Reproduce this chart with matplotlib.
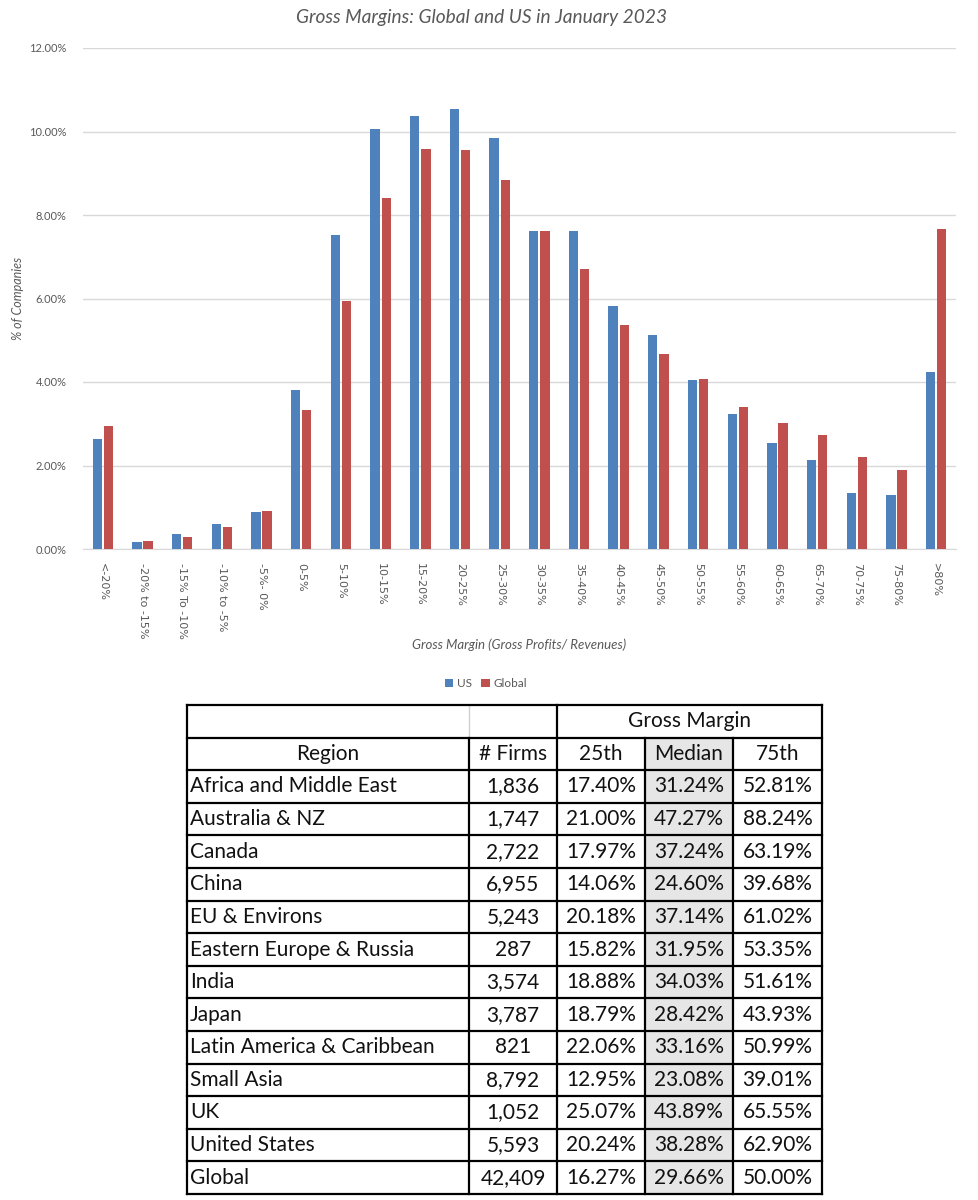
import matplotlib
matplotlib.use("Agg")
import matplotlib.pyplot as plt
from matplotlib.patches import Rectangle
from matplotlib.lines import Line2D
from matplotlib.ticker import FuncFormatter, MultipleLocator
import numpy as np

# ---------------- data ----------------
categories = ["<-20%", "-20% to -15%", "-15% To -10%", "-10% to -5%", "-5%- 0%",
              "0-5%", "5-10%", "10-15%", "15-20%", "20-25%", "25-30%", "30-35%",
              "35-40%", "40-45%", "45-50%", "50-55%", "55-60%", "60-65%", "65-70%",
              "70-75%", "75-80%", ">80%"]
us_pct = [2.63, 0.16, 0.37, 0.61, 0.88, 3.81, 7.51, 10.06, 10.38, 10.54, 9.85, 7.61,
          7.61, 5.82, 5.12, 4.05, 3.23, 2.54, 2.14, 1.33, 1.29, 4.25]
global_pct = [2.95, 0.20, 0.29, 0.52, 0.91, 3.33, 5.93, 8.40, 9.57, 9.55, 8.83, 7.61,
              6.70, 5.36, 4.66, 4.06, 3.40, 3.02, 2.72, 2.20, 1.90, 7.66]

regions = ["Africa and Middle East", "Australia & NZ", "Canada", "China", "EU & Environs",
           "Eastern Europe & Russia", "India", "Japan", "Latin America & Caribbean",
           "Small Asia", "UK", "United States", "Global"]
firms = [1836, 1747, 2722, 6955, 5243, 287, 3574, 3787, 821, 8792, 1052, 5593, 42409]
p25 = [17.40, 21.00, 17.97, 14.06, 20.18, 15.82, 18.88, 18.79, 22.06, 12.95, 25.07, 20.24, 16.27]
median = [31.24, 47.27, 37.24, 24.60, 37.14, 31.95, 34.03, 28.42, 33.16, 23.08, 43.89, 38.28, 29.66]
p75 = [52.81, 88.24, 63.19, 39.68, 61.02, 53.35, 51.61, 43.93, 50.99, 39.01, 65.55, 62.90, 50.00]

US_COLOR = "#4F81BD"
GL_COLOR = "#C0504D"
GREY = "#595959"
FONT = "Lato"

W, H = 979, 1200
fig = plt.figure(figsize=(W / 100, H / 100), dpi=100)

# ---------------- bar chart ----------------
ax = fig.add_axes([83 / W, 1 - 549 / H, (956 - 83) / W, (549 - 48) / H])
x = np.arange(len(categories))
bw = 0.235
ax.bar(x - 0.14, np.array(us_pct) / 100, width=bw, color=US_COLOR, label="US", zorder=3)
ax.bar(x + 0.14, np.array(global_pct) / 100, width=bw, color=GL_COLOR, label="Global", zorder=3)
ax.set_xlim(-0.5, len(categories) - 0.5)
ax.set_ylim(0, 0.12)
ax.yaxis.set_major_locator(MultipleLocator(0.02))
ax.yaxis.set_major_formatter(FuncFormatter(lambda v, p: f"{v * 100:.2f}%"))
ax.grid(axis="y", color="#D9D9D9", lw=1, zorder=0)
for s in ["top", "right", "left"]:
    ax.spines[s].set_visible(False)
ax.spines["bottom"].set_color("#D9D9D9")
ax.tick_params(axis="both", length=0, colors=GREY)
ax.tick_params(axis="y", labelsize=8, pad=12)
ax.set_xticks(x)
ax.set_xticklabels(categories, rotation=270, fontsize=8, family="DejaVu Sans", color=GREY)
ax.tick_params(axis="x", pad=10)
for lab in ax.get_yticklabels():
    lab.set_family(FONT)

ax.set_ylabel("% of Companies", fontsize=9, style="italic", family=FONT, color=GREY)
ax.yaxis.set_label_coords(-0.0676, 0.5)
fig.text(519 / W, 1 - 645 / H, "Gross Margin (Gross Profits/ Revenues)", ha="center", va="center",
         fontsize=9.5, style="italic", family=FONT, color=GREY)
fig.text(482 / W, 1 - 18 / H, "Gross Margins: Global and US in January 2023", ha="center",
         va="center", fontsize=13.8, style="italic", family=FONT, color=GREY)
leg = fig.legend(loc="center", bbox_to_anchor=(486 / W, 1 - 684 / H), ncol=2, frameon=False,
                 handlelength=0.7, handleheight=0.7, handletextpad=0.3,
                 columnspacing=0.8, prop={"family": FONT, "size": 8.5})
for t in leg.get_texts():
    t.set_color(GREY)

# ---------------- table ----------------
tx = fig.add_axes([0, 0, 1, 1])
tx.set_xlim(0, W)
tx.set_ylim(H, 0)
tx.axis("off")
tx.patch.set_alpha(0)

cols = [187, 469, 557, 645, 733, 822]
top = 705
rh = 32.6
nrows = 2 + len(regions)
ys = [top + i * rh for i in range(nrows + 1)]
TFS = 15
lw = 1.6

# median shading
for i in range(1, nrows):
    tx.add_patch(Rectangle((cols[3], ys[i]), cols[4] - cols[3], rh, color="#E6E6E6", lw=0, zorder=1))

# horizontal lines
for i, y in enumerate(ys):
    tx.add_line(Line2D([cols[0], cols[-1]], [y, y], color="black", lw=lw, zorder=3))
# vertical lines
for j, c in enumerate(cols):
    if j in (0, 2, 5):
        tx.add_line(Line2D([c, c], [ys[0], ys[-1]], color="black", lw=lw, zorder=3))
    elif j == 1:
        tx.add_line(Line2D([c, c], [ys[0], ys[1]], color="#D0D0D0", lw=1, zorder=2))
        tx.add_line(Line2D([c, c], [ys[1], ys[-1]], color="black", lw=lw, zorder=3))
    else:
        tx.add_line(Line2D([c, c], [ys[1], ys[-1]], color="black", lw=lw, zorder=3))

def ctext(xc, yc, s, ha="center"):
    tx.text(xc, yc, s, ha=ha, va="center", fontsize=TFS, family=FONT, color="#111111", zorder=4)

ctext((cols[2] + cols[5]) / 2, ys[0] + rh / 2, "Gross Margin")
hdr = ["Region", "# Firms", "25th", "Median", "75th"]
for j, h in enumerate(hdr):
    ctext((cols[j] + cols[j + 1]) / 2, ys[1] + rh / 2, h)
for i, r in enumerate(regions):
    yc = ys[2 + i] + rh / 2
    ctext(cols[0] + 3, yc, r, ha="left")
    ctext((cols[1] + cols[2]) / 2, yc, f"{firms[i]:,}")
    ctext((cols[2] + cols[3]) / 2, yc, f"{p25[i]:.2f}%")
    ctext((cols[3] + cols[4]) / 2, yc, f"{median[i]:.2f}%")
    ctext((cols[4] + cols[5]) / 2, yc, f"{p75[i]:.2f}%")

fig.savefig("out.png", dpi=100)
